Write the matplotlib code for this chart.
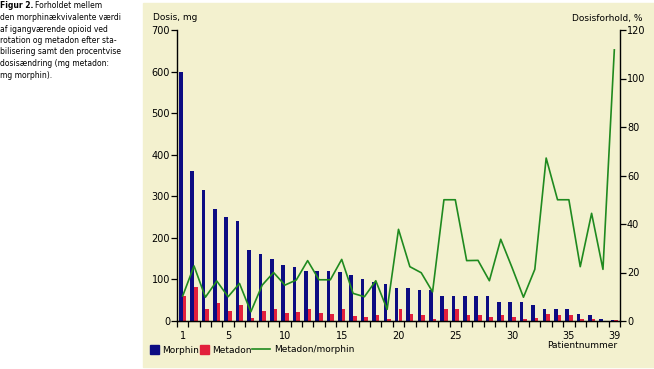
import numpy as np
from matplotlib import pyplot as plt
from matplotlib.patches import Rectangle, Patch
from matplotlib.lines import Line2D

# data
patients = np.arange(1, 40)
morphin = [600, 360, 315, 270, 250, 240, 170, 160, 150, 135,
           130, 120, 120, 120, 118, 110, 100, 93, 90, 80,
           80, 75, 75, 60, 60, 60, 60, 60, 45, 45,
           45, 38, 30, 30, 30, 18, 14, 6, 3]
metadon = [60, 81, 30, 44, 25, 38, 7, 23, 30, 20,
           22, 29, 19, 18, 29, 12, 10, 15, 4, 30,
           17, 14, 6, 30, 30, 14, 14, 10, 14, 10,
           5, 7, 18, 14, 14, 5, 5, 0, 2]
ratio = [10.3, 22.7, 9.8, 16.5, 10, 15.5, 3.8, 14.8, 20, 14.8,
         16.9, 24.9, 17, 17, 25.4, 11.4, 10, 16.6, 4.8, 37.8,
         22.4, 19.9, 12, 50, 50, 24.9, 25, 16.6, 33.7, 22,
         9.8, 21.3, 67.2, 50, 50, 22.4, 44.4, 21.3, 111.8]
xtick_labels = [1, 5, 10, 15, 20, 25, 30, 35, 39]

caption = ["den morphinækvivalente værdi",
           "af igangværende opioid ved",
           "rotation og metadon efter sta-",
           "bilisering samt den procentvise",
           "dosisændring (mg metadon:",
           "mg morphin)."]

blue = '#0c0c82'
red = '#e2203c'
green = '#1f8a1f'
beige = '#f3f1cf'

fig = plt.figure(figsize=(6.54, 3.69), dpi=100)
fig.patches.append(Rectangle((143/654, 2/369), 1 - 143/654, 1 - 5/369,
                             transform=fig.transFigure, color=beige, zorder=-5))

# caption on the left
fig.text(0.0, 1 - 6/369, "Figur 2.", fontsize=5.5, fontweight='bold', va='center', ha='left')
fig.text(35/654, 1 - 6/369, "Forholdet mellem", fontsize=5.5, va='center', ha='left')
for i, line in enumerate(caption):
    fig.text(0.0, 1 - (17.5 + 11.5*i)/369, line, fontsize=5.5, va='center', ha='left')

ax = fig.add_axes([177/654, 1 - 321/369, (620-177)/654, (321-30)/369])
ax.set_facecolor('none')
ax.bar(patients - 0.16, morphin, width=0.32, color=blue, zorder=2)
ax.bar(patients + 0.16, metadon, width=0.32, color=red, zorder=2)
ax.set_xlim(0.5, 39.5)
ax.set_ylim(0, 700)
ax.set_yticks(np.arange(0, 701, 100))
ax.set_xticks(xtick_labels)
ax.set_xticks(np.arange(0.5, 40, 1), minor=True)
ax.tick_params(axis='x', which='major', length=0, pad=7, labelsize=7)
ax.tick_params(axis='x', which='minor', length=4, direction='out', width=0.9)
ax.tick_params(axis='y', length=4, direction='out', width=0.9, labelsize=7, pad=1)
ax.spines['top'].set_visible(False)
ax.spines['right'].set_visible(False)
for s in ['left', 'bottom']:
    ax.spines[s].set_linewidth(1.0)

ax2 = ax.twinx()
ax2.plot(patients, ratio, color=green, lw=1.2, zorder=3)
ax2.set_ylim(0, 120)
ax2.set_yticks(np.arange(0, 121, 20))
ax2.tick_params(axis='y', length=4, direction='out', width=0.9, labelsize=7, pad=1)
ax2.spines['top'].set_visible(False)
ax2.spines['left'].set_visible(False)
ax2.spines['right'].set_linewidth(1.0)

fig.text(153/654, 1 - 18/369, "Dosis, mg", fontsize=6.5, va='center', ha='left')
fig.text(642/654, 1 - 18/369, "Dosisforhold, %", fontsize=6.5, va='center', ha='right')
fig.text(617/654, 1 - 346/369, "Patientnummer", fontsize=6.5, va='center', ha='right')

h1 = [Patch(color=blue, label='Morphin'), Patch(color=red, label='Metadon')]
fig.legend(handles=h1, loc='center left', bbox_to_anchor=(150/654, 1 - 350/369),
           ncol=2, frameon=False, fontsize=6.5, handlelength=1.0, handleheight=1.0,
           handletextpad=0.3, columnspacing=0.2, borderpad=0, borderaxespad=0)
h2 = [Line2D([], [], color=green, lw=1.2, label='Metadon/morphin')]
fig.legend(handles=h2, loc='center left', bbox_to_anchor=(252/654, 1 - 350/369),
           frameon=False, fontsize=6.5, handlelength=2.0, handletextpad=0.4,
           borderpad=0, borderaxespad=0)

fig.savefig('out.png', dpi=100)
